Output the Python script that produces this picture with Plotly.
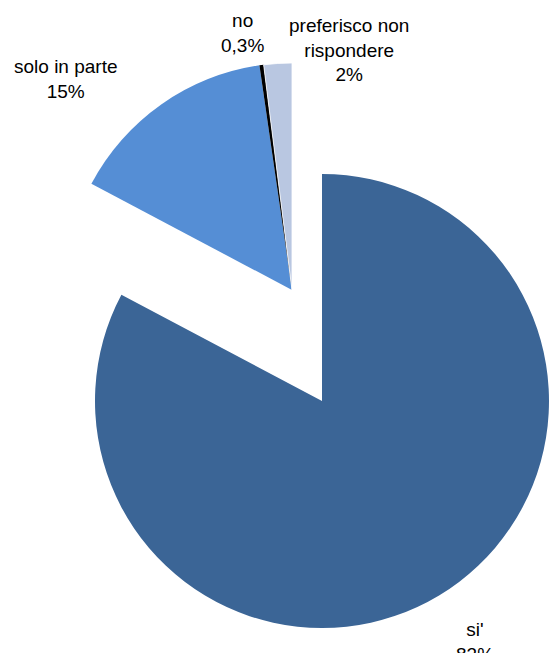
import plotly.graph_objects as go

categories = ["si'", "solo in parte", "no", "preferisco non rispondere"]
values = [83, 15, 0.3, 2]
pct_labels = ["83%", "15%", "0,3%", "2%"]
label_lines = ["si'", "solo in parte", "no", "preferisco non<br>rispondere"]

colors = ["#3B6596", "#558ED5", "#000000", "#B9C7E1"]
clear = "rgba(0,0,0,0)"

W, H = 549, 653

def px_dom(x0, x1, y0, y1):
    return dict(x=[x0 / W, x1 / W], y=[1 - y1 / H, 1 - y0 / H])

fig = go.Figure()
# main (non-exploded) slice
fig.add_trace(go.Pie(
    labels=categories, values=values, sort=False, direction="clockwise", rotation=0,
    marker=dict(colors=[colors[0], clear, clear, clear], line=dict(width=0)),
    textinfo="none", hoverinfo="label+percent", showlegend=False,
    domain=px_dom(95, 549, 170, 632),
))
# exploded slices
fig.add_trace(go.Pie(
    labels=categories, values=values, sort=False, direction="clockwise", rotation=0,
    marker=dict(colors=[clear, colors[1], colors[2], colors[3]],
                line=dict(color="white", width=[0, 0, 0, 0.8])),
    textinfo="none", hoverinfo="label+percent", showlegend=False,
    domain=px_dom(65, 519, 63, 517),
))

label_pos = [(475, 642), (66, 79), (242, 33), (349, 50)]
for lab, pct, (x, y) in zip(label_lines, pct_labels, label_pos):
    fig.add_annotation(x=x / W, y=1 - y / H, xref="paper", yref="paper",
                       text=f"{lab}<br>{pct}", showarrow=False,
                       xanchor="center", yanchor="middle", align="center",
                       font=dict(family="Liberation Sans, Arial, sans-serif", size=19, color="#000000"))

fig.update_layout(width=W, height=H, margin=dict(l=0, r=0, t=0, b=0),
                  paper_bgcolor="white", plot_bgcolor="white")
fig.write_html("out.html")
